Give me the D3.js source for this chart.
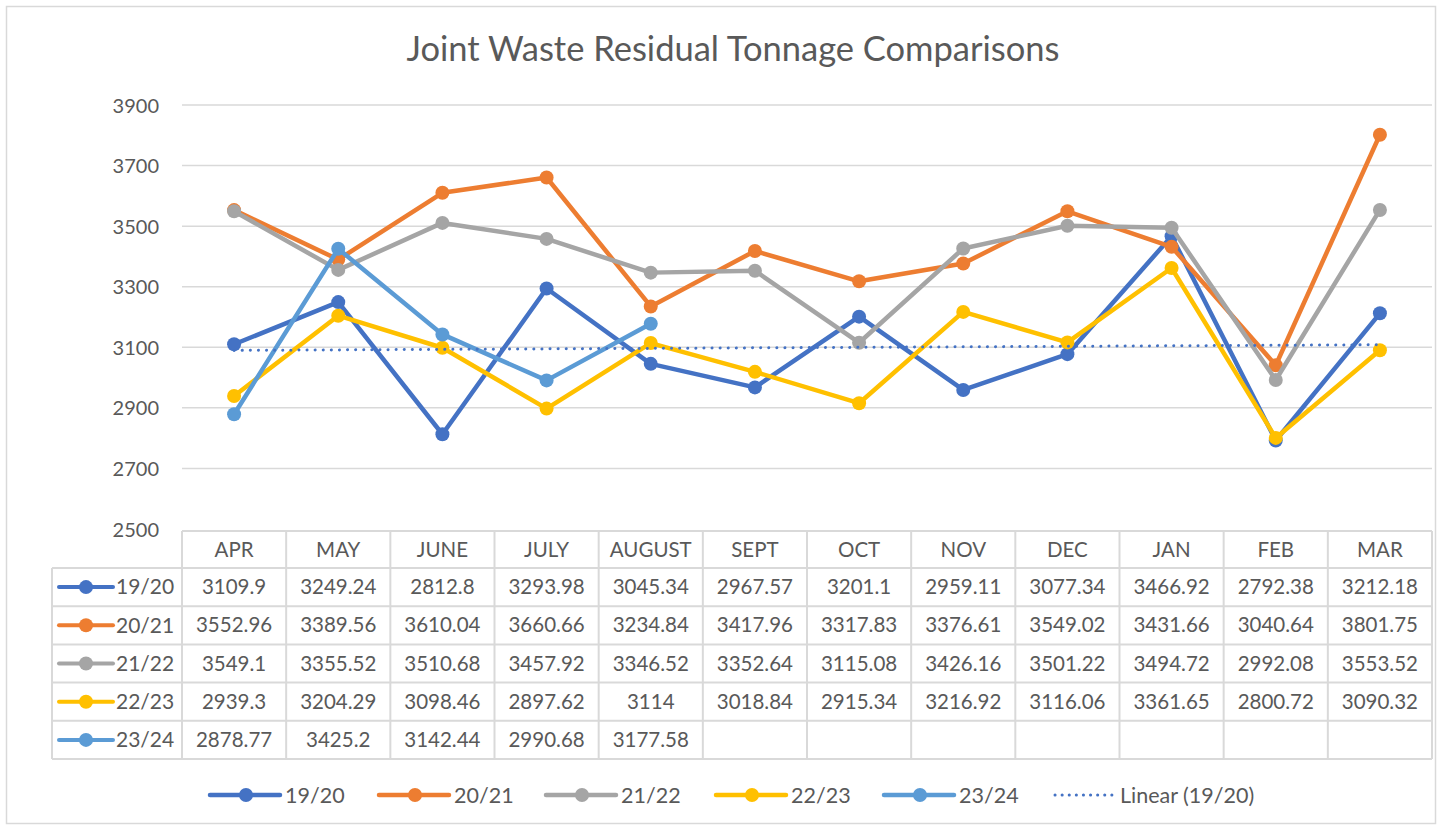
<!DOCTYPE html>
<meta charset="utf-8">
<html>
<head>
<script src="https://d3js.org/d3.v7.min.js"></script>
<style>
  body { margin: 0; background: #fff; }
  text { font-family: Lato, "Open Sans", sans-serif; fill: #595959; }
</style>
</head>
<body>
<svg width="1442" height="830"></svg>
<script>

var months = ["APR", "MAY", "JUNE", "JULY", "AUGUST", "SEPT", "OCT", "NOV", "DEC", "JAN", "FEB", "MAR"];
var seriesNames = ["19/20", "20/21", "21/22", "22/23", "23/24"];
var s1920 = [3109.9, 3249.24, 2812.8, 3293.98, 3045.34, 2967.57, 3201.1, 2959.11, 3077.34, 3466.92, 2792.38, 3212.18];
var s2021 = [3552.96, 3389.56, 3610.04, 3660.66, 3234.84, 3417.96, 3317.83, 3376.61, 3549.02, 3431.66, 3040.64, 3801.75];
var s2122 = [3549.1, 3355.52, 3510.68, 3457.92, 3346.52, 3352.64, 3115.08, 3426.16, 3501.22, 3494.72, 2992.08, 3553.52];
var s2223 = [2939.3, 3204.29, 3098.46, 2897.62, 3114, 3018.84, 2915.34, 3216.92, 3116.06, 3361.65, 2800.72, 3090.32];
var s2324 = [2878.77, 3425.2, 3142.44, 2990.68, 3177.58];
var yTicks = [2500, 2700, 2900, 3100, 3300, 3500, 3700, 3900];
var colors = ["#4472C4", "#ED7D31", "#A5A5A5", "#FFC000", "#5B9BD5"];

var allSeries = [s1920, s2021, s2122, s2223, s2324];

var svg = d3.select("svg"),
    width = +svg.attr("width"),
    height = +svg.attr("height");

var plot = {left: 182, right: 1432, top: 105, bottom: 529};
var table = {top: 531, headerBottom: 568, rowH: 38.2, labelLeft: 52};

// chart frame
svg.append("rect")
    .attr("x", 6.5).attr("y", 6.5)
    .attr("width", width - 13).attr("height", height - 13)
    .attr("fill", "#fff").attr("stroke", "#d9d9d9").attr("stroke-width", 1.5);

svg.append("text")
    .attr("x", 733).attr("y", 61)
    .attr("text-anchor", "middle")
    .style("font-size", "34.5px")
    .text("Joint Waste Residual Tonnage Comparisons");

var x = d3.scaleBand().domain(months).range([plot.left, plot.right]);
var cx = function(m) { return x(m) + x.bandwidth() / 2; };

var y = d3.scaleLinear().domain([2500, 3900]).range([plot.bottom, plot.top]);

// gridlines
svg.append("g")
  .selectAll("line")
  .data(yTicks.slice(1))
  .enter().append("line")
    .attr("x1", plot.left).attr("x2", plot.right)
    .attr("y1", function(d) { return y(d); })
    .attr("y2", function(d) { return y(d); })
    .attr("stroke", "#d9d9d9").attr("stroke-width", 1.5);

// y axis labels
var yAxis = svg.append("g")
    .attr("transform", "translate(" + (plot.left - 8) + ",0)")
    .call(d3.axisLeft(y).tickValues(yTicks).tickSize(0).tickPadding(15).tickFormat(d3.format("d")));
yAxis.select(".domain").remove();
yAxis.selectAll("text")
    .attr("dy", "0.35em")
    .style("font-size", "20px")
    .style("font-family", "Lato, sans-serif")
    .attr("fill", "#595959");

// data table
var tg = svg.append("g").attr("stroke", "#d9d9d9").attr("stroke-width", 2);
var tableBottom = table.headerBottom + table.rowH * seriesNames.length;

tg.append("line").attr("x1", plot.left).attr("x2", plot.right).attr("y1", table.top).attr("y2", table.top);
d3.range(seriesNames.length + 1).forEach(function(i) {
  var yy = table.headerBottom + i * table.rowH;
  tg.append("line").attr("x1", table.labelLeft).attr("x2", plot.right).attr("y1", yy).attr("y2", yy);
});
tg.append("line").attr("x1", table.labelLeft).attr("x2", table.labelLeft)
    .attr("y1", table.headerBottom).attr("y2", tableBottom);
months.concat(["end"]).forEach(function(m, i) {
  var xx = i < months.length ? x(m) : plot.right;
  tg.append("line").attr("x1", xx).attr("x2", xx).attr("y1", table.top).attr("y2", tableBottom);
});

svg.append("g")
  .selectAll("text")
  .data(months)
  .enter().append("text")
    .attr("x", cx)
    .attr("y", (table.top + table.headerBottom) / 2)
    .attr("dy", "0.35em")
    .attr("text-anchor", "middle")
    .style("font-size", "20.5px")
    .text(function(d) { return d; });

seriesNames.forEach(function(name, si) {
  var rowY = table.headerBottom + table.rowH * (si + 0.5);
  var g = svg.append("g");
  g.append("line")
      .attr("x1", 59).attr("x2", 113).attr("y1", rowY).attr("y2", rowY)
      .attr("stroke", colors[si]).attr("stroke-width", 4).attr("stroke-linecap", "round");
  g.append("circle").attr("cx", 86).attr("cy", rowY).attr("r", 7).attr("fill", colors[si]);
  g.append("text")
      .attr("x", 116).attr("y", rowY).attr("dy", "0.35em")
      .style("font-size", "21px")
      .text(name);
  g.selectAll(".val")
    .data(allSeries[si])
    .enter().append("text")
      .attr("x", function(d, i) { return cx(months[i]); })
      .attr("y", rowY).attr("dy", "0.35em")
      .attr("text-anchor", "middle")
      .style("font-size", "20.5px")
      .text(function(d) { return String(d); });
});

// lines
var line = d3.line()
    .x(function(d, i) { return cx(months[i]); })
    .y(function(d) { return y(d); });

allSeries.forEach(function(vals, si) {
  svg.append("path")
      .datum(vals)
      .attr("d", line)
      .attr("fill", "none")
      .attr("stroke", colors[si])
      .attr("stroke-width", 4.5)
      .attr("stroke-linejoin", "round");
  svg.append("g")
    .selectAll("circle")
    .data(vals)
    .enter().append("circle")
      .attr("cx", function(d, i) { return cx(months[i]); })
      .attr("cy", function(d) { return y(d); })
      .attr("r", 7)
      .attr("fill", colors[si]);
});

// linear trendline of 19/20 (least squares, like excel)
var n = s1920.length,
    xs = d3.range(1, n + 1),
    mx = d3.mean(xs), my = d3.mean(s1920),
    slope = d3.sum(xs, function(v, i) { return (v - mx) * (s1920[i] - my); }) /
            d3.sum(xs, function(v) { return (v - mx) * (v - mx); }),
    icpt = my - slope * mx;
var trend = xs.map(function(v) { return icpt + slope * v; });

svg.append("path")
    .datum([trend[0], trend[n - 1]])
    .attr("d", d3.line()
        .x(function(d, i) { return cx(months[i === 0 ? 0 : n - 1]); })
        .y(function(d) { return y(d); }))
    .attr("fill", "none")
    .attr("stroke", colors[0])
    .attr("stroke-width", 3)
    .attr("stroke-linecap", "round")
    .attr("stroke-dasharray", "0.1 8");

// legend
var legendItems = [
  {name: "19/20", x1: 210, color: colors[0]},
  {name: "20/21", x1: 379, color: colors[1]},
  {name: "21/22", x1: 546, color: colors[2]},
  {name: "22/23", x1: 716, color: colors[3]},
  {name: "23/24", x1: 884, color: colors[4]}
];
var ly = 795;
var lg = svg.append("g");
legendItems.forEach(function(it) {
  lg.append("line")
      .attr("x1", it.x1).attr("x2", it.x1 + 70).attr("y1", ly).attr("y2", ly)
      .attr("stroke", it.color).attr("stroke-width", 4.5).attr("stroke-linecap", "round");
  lg.append("circle").attr("cx", it.x1 + 36).attr("cy", ly).attr("r", 7).attr("fill", it.color);
  lg.append("text")
      .attr("x", it.x1 + 75).attr("y", ly).attr("dy", "0.35em")
      .style("font-size", "21.5px")
      .text(it.name);
});
lg.append("line")
    .attr("x1", 1055).attr("x2", 1114).attr("y1", ly).attr("y2", ly)
    .attr("stroke", colors[0]).attr("stroke-width", 3)
    .attr("stroke-linecap", "round").attr("stroke-dasharray", "0.1 7");
lg.append("text")
    .attr("x", 1120).attr("y", ly).attr("dy", "0.35em")
    .style("font-size", "21.5px")
    .text("Linear (19/20)");

</script>
</body>
</html>
